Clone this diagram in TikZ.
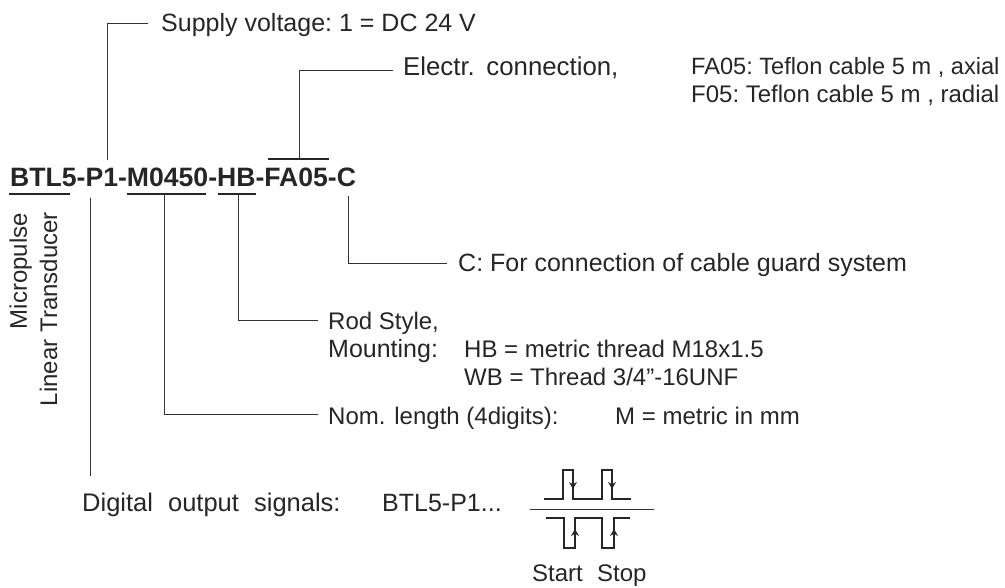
\documentclass[tikz,border=0pt]{standalone}
\usepackage{fontspec}
\setmainfont{Liberation Sans}
\usepackage{tikz}
\usetikzlibrary{arrows.meta}
\sfcode`\:=1000
\tikzset{txt/.style={anchor=base west,inner sep=0pt,text=black!85,font=\fontsize{24}{28}\selectfont},
txtb/.style={txt,font=\fontsize{25}{28}\selectfont},
lead/.style={draw=black!80,line width=1pt},
bar/.style={draw=black!85,line width=1.3pt},
sig/.style={draw=black!85,line width=1.4pt},
edge/.style={-{Stealth[length=7pt,width=8pt]},draw=black!85,fill=black!85,line width=1pt}}
\begin{document}
\begin{tikzpicture}[x=1pt,y=-1pt,>=stealth]
\useasboundingbox (0,0) rectangle (1005,587);
% texts
\node (title) at (10,186) [txt,font=\fontsize{26.6}{30}\selectfont\bfseries] {BTL5-P1-M0450-HB-FA05-C};
\node (supply) at (161,31) [txtb] {Supply voltage: 1 = DC 24 V};
\node (electr) at (403,75) [txt,font=\fontsize{25.8}{28}\selectfont] {Electr.\hspace{2pt} connection,};
\node (fa) at (691,74) [txt,font=\fontsize{23.6}{28}\selectfont] {FA05: Teflon cable 5 m , axial};
\node (f) at (691,102) [txt] {F05: Teflon cable 5 m , radial};
\node (guard) at (458,271) [txtb] {C: For connection of cable guard system};
\node (rod) at (328,329) [txt] {Rod Style,};
\node (mount) at (328,357) [txtb] {Mounting:};
\node (hb) at (464,357) [txt] {HB = metric thread M18x1.5};
\node (wb) at (464,385) [txt] {WB = Thread 3/4"-16UNF};
\node (nom) at (328,424) [txt] {Nom. length (4digits):};
\node (mm) at (615,424) [txt] {M = metric in mm};
\node (digital) at (82,511) [txt,font=\fontsize{25.5}{28}\selectfont] {Digital\hspace{8pt} output\hspace{8pt} signals:};
\node (type) at (382,511) [txtb] {BTL5-P1...};
\node (start) at (532,581) [txt] {Start};
\node (stop) at (597,581) [txt] {Stop};
\node (micro) at (27,213) [txt,anchor=base east,rotate=90] {Micropulse};
\node (linear) at (57,212) [txt,anchor=base east,rotate=90] {Linear Transducer};
% leaders
\coordinate (s0) at (107,160);
\coordinate (s1) at (107,23);
\coordinate (s2) at (148,23);
\draw[lead] (s0) -- (s1) -- (s2);
\coordinate (el) at (268,159);
\coordinate (er) at (329,159);
\coordinate (e0) at (299,159);
\coordinate (e1) at (299,70);
\coordinate (e2) at (393,70);
\draw[bar] (el) -- (er);
\draw[lead] (e0) -- (e1) -- (e2);
\coordinate (bl) at (9,194);
\coordinate (br) at (70,194);
\draw[bar] (bl) -- (br);
\coordinate (d0) at (90,198);
\coordinate (d1) at (90,476);
\draw[lead] (d0) -- (d1);
\coordinate (ml) at (127,194);
\coordinate (mr) at (206,194);
\coordinate (m0) at (164,195);
\coordinate (m1) at (164,414);
\coordinate (m2) at (318,414);
\draw[bar] (ml) -- (mr);
\draw[lead] (m0) -- (m1) -- (m2);
\coordinate (hl) at (218,194);
\coordinate (hr) at (256,194);
\coordinate (h0) at (238,195);
\coordinate (h1) at (238,320);
\coordinate (h2) at (318,320);
\draw[bar] (hl) -- (hr);
\draw[lead] (h0) -- (h1) -- (h2);
\coordinate (c0) at (348,196);
\coordinate (c1) at (348,263);
\coordinate (c2) at (447,263);
\draw[lead] (c0) -- (c1) -- (c2);
% signals
\coordinate (axl) at (530,509);
\coordinate (axr) at (654,509);
\draw[lead] (axl) -- (axr);
\draw[sig] (544,499) -- (563,499) -- (563,470) -- (573,470) -- (573,499) -- (602,499) -- (602,470) -- (612,470) -- (612,499) -- (631,499);
\draw[sig] (546,518) -- (564,518) -- (564,548) -- (575,548) -- (575,518) -- (602,518) -- (602,548) -- (614,548) -- (614,518) -- (630,518);
\draw[edge] (573,478) -- (573,489);
\draw[edge] (612,478) -- (612,489);
\draw[edge] (575,540) -- (575,529);
\draw[edge] (614,540) -- (614,529);
\end{tikzpicture}
\end{document}
